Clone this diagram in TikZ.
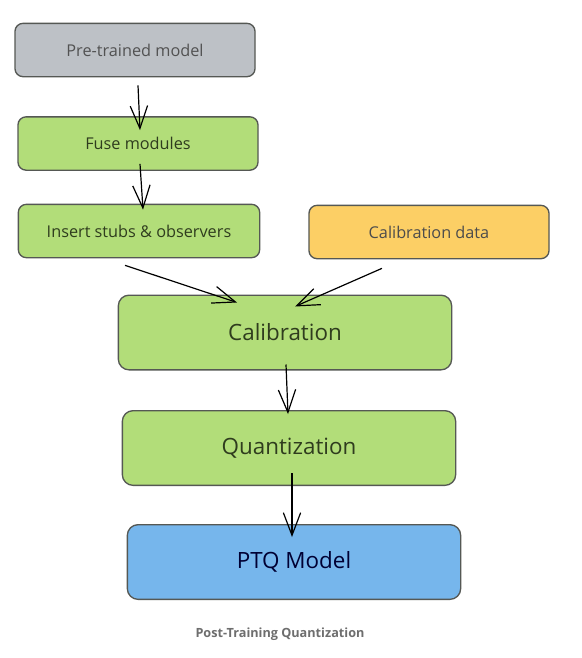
\documentclass[tikz,border=0pt]{standalone}
\usepackage{fontspec}
\setmainfont{Open Sans}
\usetikzlibrary{arrows.meta,calc}

\definecolor{boxline}{RGB}{85,88,84}
\definecolor{grayfill}{RGB}{189,193,198}
\definecolor{greenfill}{RGB}{178,221,121}
\definecolor{orangefill}{RGB}{252,207,101}
\definecolor{bluefill}{RGB}{118,182,236}
\definecolor{greentext}{RGB}{47,60,30}
\definecolor{captiongray}{RGB}{110,110,110}

\tikzset{
  smallbox/.style={draw=boxline, line width=1pt, rounded corners=6pt,
    minimum width=180pt, minimum height=40pt, font=\fontsize{12.2}{14}\selectfont, text=greentext},
  bigbox/.style={draw=boxline, line width=1pt, rounded corners=8pt,
    minimum width=250pt, minimum height=56pt, font=\fontsize{16.8}{20}\selectfont, text=greentext},
  arr/.style={-{Straight Barb[length=17pt,width=13pt]}, line width=0.9pt},
}

\begin{document}
\begin{tikzpicture}[x=0.75pt,y=0.75pt,yscale=-1,xscale=1]
\useasboundingbox[fill=white] (0,0) rectangle (582,658);

% Boxes
\node[smallbox, fill=grayfill, text=black!68] (pretrained) at (135,50) {Pre-trained model};
\node[smallbox, fill=greenfill] (fuse) at (138,143.5) {Fuse modules};
\node[smallbox, fill=greenfill, minimum width=181pt] (stubs) at (139,231) {Insert stubs \& observers};
\node[smallbox, fill=orangefill, text=black!70] (caldata) at (429,232) {Calibration data};
\node[bigbox, fill=greenfill] (calib) at (285,332.5) {Calibration};
\node[bigbox, fill=greenfill] (quant) at (289,448) {Quantization};
\node[bigbox, fill=bluefill, text=black!80!blue] (ptq) at (294,562) {PTQ Model};

% Caption
\node[font=\bfseries\fontsize{9.5}{11}\selectfont, text=captiongray] (caption) at (280,634) {Post-Training Quantization};

% Arrows
\draw[arr] ($(pretrained.south)+(3,8)$) -- ($(fuse.north)+(2,14)$);
\draw[arr] ($(fuse.south)+(2,-7)$) -- ($(stubs.north)+(4,6)$);
\draw[arr] ($(stubs.south)+(-14,7)$) -- ($(calib.north)+(-48,8)$);
\draw[arr] ($(caldata.south)+(-47,9)$) -- ($(calib.north)+(10,12)$);
\draw[arr] ($(calib.south)+(1,-6)$) -- ($(quant.north)+(-1,4)$);
\draw[arr] ($(quant.south)+(3,-13)$) -- ($(ptq.north)+(-2,13)$);

\end{tikzpicture}
\end{document}
